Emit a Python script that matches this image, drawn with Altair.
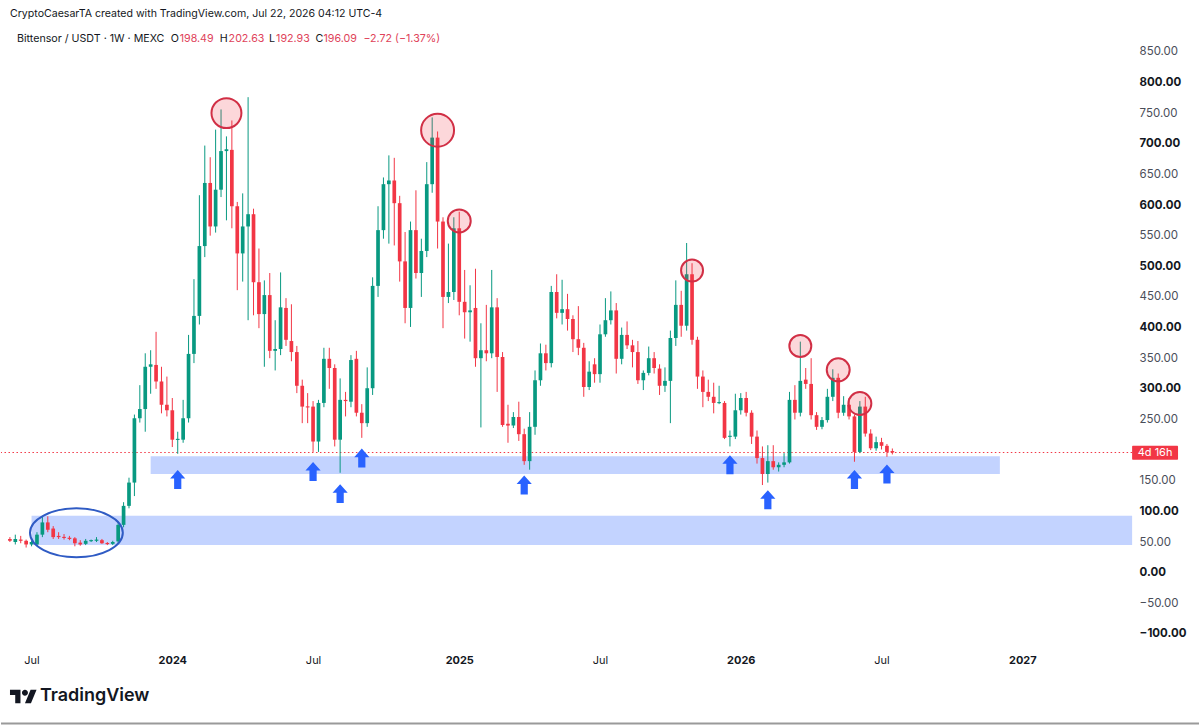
import altair as alt
import pandas as pd

# ---------------- data ----------------
FIRST_WEEK = "2023-06-05"          # Monday of the first weekly candle

OPENS = [55, 50, 54, 52, 46, 46, 62, 82, 72, 60, 58, 57, 56, 49, 47, 52, 52, 53, 48, 47,
         51, 78, 109, 147, 252, 267, 336, 339, 312, 274, 265, 217, 217, 252, 357, 419, 533, 636, 565, 625,
         688, 690, 598, 521, 565, 585, 474, 422, 453, 362, 365, 432, 378, 360, 305, 271, 271, 214, 277, 349,
         334, 217, 282, 279, 349, 261, 244, 301, 468, 559, 634, 640, 603, 508, 432, 559, 489, 525, 634, 710,
         573, 450, 458, 562, 442, 425, 432, 350, 363, 358, 433, 352, 243, 240, 254, 226, 182, 238, 314, 358,
         342, 458, 424, 430, 414, 381, 367, 303, 340, 324, 389, 412, 428, 349, 388, 371, 360, 314, 326, 350,
         333, 305, 313, 383, 437, 403, 487, 380, 320, 295, 287, 277, 277, 222, 222, 265, 285, 261, 222, 187,
         161, 182, 172, 176, 180, 282, 261, 315, 308, 257, 238, 249, 287, 318, 261, 274, 255, 197, 271, 227,
         203, 213, 207, 198.49]
HIGHS = [58, 62, 60, 54, 52, 66, 91, 92, 76, 66, 63, 60, 58, 53, 55, 54, 58, 55, 50, 52,
         83, 115, 155, 258, 306, 358, 363, 393, 336, 320, 285, 230, 282, 388, 479, 616, 697, 678, 723, 756,
         712, 738, 605, 619, 776, 594, 529, 477, 489, 412, 490, 448, 438, 370, 315, 293, 280, 282, 367, 367,
         340, 317, 295, 355, 362, 275, 335, 482, 598, 645, 681, 677, 615, 556, 573, 624, 545, 670, 743, 720,
         580, 537, 580, 589, 494, 469, 496, 407, 437, 494, 448, 360, 274, 262, 279, 235, 262, 330, 374, 372,
         468, 487, 478, 455, 420, 435, 375, 345, 350, 405, 448, 459, 440, 400, 410, 380, 378, 330, 369, 360,
         340, 335, 395, 477, 460, 538, 505, 385, 330, 315, 310, 305, 280, 232, 292, 293, 295, 265, 232, 206,
         208, 208, 180, 195, 295, 306, 377, 334, 350, 262, 254, 300, 332, 325, 288, 285, 258, 280, 287, 234,
         222, 220, 210, 202.63]
LOWS = [50, 46, 48, 41, 43, 44, 58, 66, 55, 55, 54, 53, 43, 44, 45, 50, 50, 47, 45, 45,
        48, 74, 105, 125, 245, 230, 292, 300, 260, 255, 205, 194, 212, 245, 342, 405, 515, 550, 555, 613,
        575, 562, 461, 475, 412, 420, 399, 336, 350, 330, 355, 370, 345, 293, 244, 244, 197, 197, 270, 300,
        206, 163, 255, 270, 255, 220, 238, 290, 450, 545, 537, 534, 475, 407, 401, 480, 450, 515, 620, 529,
        399, 440, 445, 420, 382, 377, 336, 237, 345, 350, 295, 238, 212, 236, 215, 176, 168, 225, 305, 330,
        335, 415, 405, 395, 360, 355, 287, 298, 310, 310, 385, 405, 325, 340, 365, 335, 308, 298, 322, 325,
        290, 295, 244, 370, 385, 395, 372, 300, 270, 280, 260, 275, 218, 206, 218, 258, 255, 210, 178, 143,
        147, 168, 165, 172, 178, 250, 255, 300, 250, 233, 234, 245, 280, 252, 256, 250, 181, 195, 222, 200,
        199, 201, 189, 192.93]
CLOSES = [52, 55, 52, 46, 50, 62, 82, 70, 58, 58, 57, 55, 48, 46, 52, 52.5, 54, 48, 47, 50,
          78, 109, 147, 252, 267, 336, 340, 312, 274, 265, 217, 218, 252, 357, 419, 533, 636, 565, 625, 688,
          691, 598, 521, 565, 585, 474, 422, 453, 362, 365, 433, 380, 360, 305, 271, 270, 214, 277, 349, 334,
          217, 282, 280, 347, 261, 244, 301, 468, 559, 634, 640, 603, 508, 432, 559, 489, 525, 634, 710, 573,
          450, 458, 562, 442, 425, 428, 350, 363, 358, 433, 352, 241, 240, 254, 226, 182, 238, 314, 358, 342,
          458, 424, 430, 414, 381, 367, 303, 328, 324, 389, 412, 428, 349, 388, 371, 360, 314, 326, 350, 334,
          305, 313, 383, 437, 403, 487, 380, 320, 295, 287, 277, 278, 220, 223, 265, 285, 261, 222, 187, 161,
          182, 172, 176, 180, 282, 261, 313, 308, 257, 238, 249, 287, 318, 261, 274, 255, 197, 271, 227, 203,
          213, 207, 197, 196.09]

LAST_CLOSE = 196.09

# support zones (price ranges) and their time spans
ZONE_STARTS = ["2023-12-04", "2023-07-03"]
ZONE_ENDS = ["2026-12-06", "2027-05-26"]
ZONE_LOWS = [161, 45]
ZONE_HIGHS = [190, 93]

# highlighted swing highs
HIGH_DATES = ["2024-03-11", "2024-12-09", "2025-01-06", "2025-11-03", "2026-03-23", "2026-05-11", "2026-06-08"]
HIGH_PRICES = [750, 722, 574, 493, 370, 331, 276]
HIGH_DIAMETERS = [30, 33, 23, 22, 22, 23, 23]

# support touches marked with arrows
ARROW_DATES = ["2024-01-08", "2024-07-01", "2024-08-05", "2024-09-02", "2025-03-31",
               "2025-12-22", "2026-02-09", "2026-06-01", "2026-07-13"]
ARROW_PRICES = [152, 165, 129, 187, 143, 176, 119, 152, 161]

# accumulation ellipse
ELLIPSE_DATE = "2023-08-30"
ELLIPSE_PRICE = 65

HEADER = "CryptoCaesarTA created with TradingView.com, Jul 22, 2026 04:12 UTC-4"
SYMBOL = "Bittensor / USDT · 1W · MEXC"
OHLC_KEYS = ["O", "H", "L", "C"]
OHLC_VALS = ["198.49", "202.63", "192.93", "196.09"]
CHANGE = "−2.72 (−1.37%)"

# ---------------- build tables ----------------
dates = pd.date_range(FIRST_WEEK, periods=len(OPENS), freq="7D").strftime("%Y-%m-%d")
candles = pd.DataFrame({"date": dates, "open": OPENS, "high": HIGHS, "low": LOWS, "close": CLOSES})
candles["dir"] = ["up" if c >= o else "down" for o, c in zip(candles.open, candles.close)]
top = candles[["open", "close"]].max(axis=1)
bot = candles[["open", "close"]].min(axis=1)
mid = (top + bot) / 2
thin = (top - bot) < 1.8
candles["btop"] = top.where(~thin, mid + 0.9)
candles["bbot"] = bot.where(~thin, mid - 0.9)

zones = pd.DataFrame({"date": ZONE_STARTS, "date2": ZONE_ENDS, "price": ZONE_LOWS, "price2": ZONE_HIGHS})
highs = pd.DataFrame({"date": HIGH_DATES, "price": HIGH_PRICES,
                      "sz": [d * d for d in HIGH_DIAMETERS]})
arrows = pd.DataFrame({"date": ARROW_DATES, "price": ARROW_PRICES})
ellipse = pd.DataFrame({"date": [ELLIPSE_DATE], "price": [ELLIPSE_PRICE]})
lastp = pd.DataFrame({"price": [LAST_CLOSE]})

UP, DOWN = "#089981", "#f23645"
FONT = "Inter"
INK = "#131722"

xscale = alt.Scale(type="utc", nice=False, padding=0,
                   domain=[alt.DateTime(year=2023, month=5, date=24, hours=12, utc=True),
                           alt.DateTime(year=2027, month=5, date=26, utc=True)])
yscale = alt.Scale(domain=[-117.3, 933.6], nice=False, zero=False, padding=0)

xaxis = alt.Axis(
    values=[alt.DateTime(year=2023, month=7, date=3, utc=True),
            alt.DateTime(year=2024, month=1, date=1, utc=True),
            alt.DateTime(year=2024, month=7, date=1, utc=True),
            alt.DateTime(year=2025, month=1, date=6, utc=True),
            alt.DateTime(year=2025, month=7, date=7, utc=True),
            alt.DateTime(year=2026, month=1, date=5, utc=True),
            alt.DateTime(year=2026, month=7, date=6, utc=True),
            alt.DateTime(year=2027, month=1, date=4, utc=True)],
    labelExpr="utcmonth(datum.value) == 0 ? utcFormat(datum.value, '%Y') : utcFormat(datum.value, '%b')",
    labelFontWeight={"condition": {"test": "utcmonth(datum.value) == 0", "value": "bold"}, "value": "normal"},
    labelFont=FONT, labelFontSize=11, labelColor=INK, labelPadding=10,
    ticks=False, tickSize=0, domain=False, grid=False, title=None, labelFlush=False,
)
yaxis = alt.Axis(
    orient="right", values=list(range(-100, 851, 50)),
    labelExpr="datum.value == 200 ? '' : format(datum.value, ',.2f')",
    labelFontWeight={"condition": {"test": "datum.value % 100 == 0", "value": "bold"}, "value": "normal"},
    labelColor={"condition": {"test": "datum.value % 100 == 0", "value": INK}, "value": "#4a4e59"},
    labelFont=FONT, labelFontSize=11.5, labelAlign="left", labelPadding=7,
    ticks=False, tickSize=0, domain=False, grid=False, title=None,
)


def X(field="date"):
    return alt.X(f"{field}:T", scale=xscale, axis=xaxis, title=None)


def Y(field="price"):
    return alt.Y(f"{field}:Q", scale=yscale, axis=yaxis, title=None)


zone_layer = alt.Chart(zones).mark_rect(color="#2962ff", opacity=0.28).encode(
    x=X(), x2="date2:T", y=Y(), y2="price2:Q")

price_line = alt.Chart(lastp).mark_rule(color=DOWN, strokeDash=[1.5, 2.5], strokeWidth=1).encode(
    y=Y())

color = alt.Color("dir:N", scale=alt.Scale(domain=["up", "down"], range=[UP, DOWN]), legend=None)
wicks = alt.Chart(candles).mark_rule(strokeWidth=1).encode(
    x=X(), y=Y("low"), y2="high:Q", color=color)
bodies = alt.Chart(candles).mark_bar(size=3.7).encode(
    x=X(), y=Y("bbot"), y2="btop:Q", color=color)

ellipse_layer = alt.Chart(ellipse).mark_point(
    shape="M-1,0A1,0.527,0,1,0,1,0A1,0.527,0,1,0,-1,0Z",
    filled=False, stroke="#2f5bc4", strokeWidth=2, opacity=1, size=93 * 93,
).encode(x=X(), y=Y())

high_layer = alt.Chart(highs).mark_point(
    shape="circle", fill=DOWN, fillOpacity=0.2, stroke="#d12f45", strokeWidth=2, opacity=1,
).encode(x=X(), y=Y(), size=alt.Size("sz:Q", scale=None, legend=None))

arrow_layer = alt.Chart(arrows).mark_point(
    shape="M0,-1L0.8,-0.1L0.38,-0.1L0.38,1L-0.38,1L-0.38,-0.1L-0.8,-0.1Z",
    filled=True, color="#2962ff", opacity=1, size=19 * 19,
).encode(x=X(), y=Y())

# header texts (pixel placed)
header = alt.Chart(pd.DataFrame({"t": [HEADER]})).mark_text(
    align="left", baseline="middle", font=FONT, fontSize=10.6, color=INK
).encode(x=alt.value(9), y=alt.value(13), text="t:N")

sym = alt.Chart(pd.DataFrame({"t": [SYMBOL]})).mark_text(
    align="left", baseline="middle", font=FONT, fontSize=10.7, color=INK
).encode(x=alt.value(16), y=alt.value(38), text="t:N")

key_x = [170, 219, 268.5, 315]
val_x = [179, 228, 275.5, 323]
keys = alt.Chart(pd.DataFrame({"t": OHLC_KEYS, "px": key_x})).mark_text(
    align="left", baseline="middle", font=FONT, fontSize=10.7, color=INK
).encode(x=alt.X("px:Q", scale=None, axis=None), y=alt.value(38), text="t:N")
vals = alt.Chart(pd.DataFrame({"t": OHLC_VALS + [CHANGE], "px": val_x + [363]})).mark_text(
    align="left", baseline="middle", font=FONT, fontSize=10.7, color="#e0435a"
).encode(x=alt.X("px:Q", scale=None, axis=None), y=alt.value(38), text="t:N")

# countdown label on the price scale
cd_box = alt.Chart(pd.DataFrame({"a": [0]})).mark_rect(color="#f23645", cornerRadius=1).encode(
    x=alt.value(1133), x2=alt.value(1179), y=alt.value(446), y2=alt.value(460))
cd_text = alt.Chart(pd.DataFrame({"t": ["4d 16h"]})).mark_text(
    align="center", baseline="middle", font=FONT, fontSize=11, color="white"
).encode(x=alt.value(1156), y=alt.value(453.5), text="t:N")

# TradingView logo
logo_mark = alt.Chart(pd.DataFrame({"a": [0]})).mark_point(
    shape=("M-0.222,0.5L-0.611,0.5L-0.611,-0.111L-1,-0.111L-1,-0.5L-0.222,-0.5Z"
           "M0.556,0.5L0.111,0.5L0.528,-0.5L0.972,-0.5Z"
           "M-0.111,-0.278A0.222,0.222,0,1,0,0.333,-0.278A0.222,0.222,0,1,0,-0.111,-0.278Z"),
    filled=True, color=INK, opacity=1, size=27 * 27,
).encode(x=alt.value(22.5), y=alt.value(697))
logo_text = alt.Chart(pd.DataFrame({"t": ["TradingView"]})).mark_text(
    align="left", baseline="middle", font=FONT, fontSize=18, fontWeight=600, color=INK
).encode(x=alt.value(39), y=alt.value(697), text="t:N")

bottom_line = alt.Chart(pd.DataFrame({"a": [0]})).mark_rule(color="#9a9a9a", strokeWidth=2).encode(
    x=alt.value(0), x2=alt.value(1200), y=alt.value(724))

chart = alt.layer(
    zone_layer, price_line, wicks, bodies, ellipse_layer, high_layer, arrow_layer,
    header, sym, keys, vals, cd_box, cd_text, logo_mark, logo_text, bottom_line,
).properties(
    width=1133, height=645,
    padding={"left": 0, "top": 0, "right": 0, "bottom": 0},
    background="white",
).configure_view(stroke=None)

chart.save("out.html", embed_options={"renderer": "svg", "actions": False})
